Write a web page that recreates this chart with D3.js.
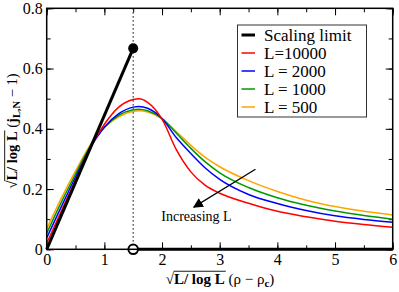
<!DOCTYPE html>
<html>
<head>
<meta charset="UTF-8">
<script src="https://d3js.org/d3.v7.min.js"></script>
<style>
  body { margin: 0; background: #fff; }
  svg text { fill: #000; font-family: "Liberation Serif", "Times New Roman", serif; }
</style>
</head>
<body>
<svg id="chart" width="399" height="292"></svg>
<script>
// data
const xs = [0, 0.25, 0.5, 0.75, 1, 1.25, 1.5, 1.6, 1.75, 2, 2.25, 2.5, 2.75, 3, 3.5, 4, 4.5, 5, 5.5, 6];
const L10000 = [0.02, 0.125, 0.23, 0.335, 0.415, 0.472, 0.497, 0.5, 0.488, 0.432, 0.33, 0.257, 0.212, 0.186, 0.153, 0.126, 0.108, 0.093, 0.082, 0.073];
const L2000 = [0.038, 0.14, 0.24, 0.335, 0.405, 0.45, 0.472, 0.474, 0.468, 0.434, 0.37, 0.318, 0.27, 0.232, 0.182, 0.152, 0.129, 0.111, 0.099, 0.09];
const L1000 = [0.053, 0.155, 0.25, 0.34, 0.405, 0.445, 0.463, 0.465, 0.46, 0.434, 0.385, 0.335, 0.29, 0.254, 0.205, 0.171, 0.146, 0.127, 0.112, 0.1];
const L500 = [0.068, 0.168, 0.26, 0.345, 0.405, 0.44, 0.458, 0.46, 0.456, 0.434, 0.39, 0.345, 0.305, 0.274, 0.228, 0.192, 0.163, 0.142, 0.126, 0.114];
const limitX = [0, 1.5], limitY = [0, 0.667];
const zeroX = [1.5, 6], zeroY = [0, 0];
const xcrit = 1.5;
const legendLabels = ["Scaling limit", "L=10000", "L = 2000", "L = 1000", "L = 500"];
const legendColors = ["#000", "#ff0000", "#0000ff", "#009900", "#ffa500"];
const xTicks = [0, 1, 2, 3, 4, 5, 6];
const yTicks = [0, 0.2, 0.4, 0.6, 0.8];

const FONT = "Liberation Serif";
const svg = d3.select("#chart");

const x = d3.scaleLinear().domain([0, 6]).range([46.7, 392.7]);
const y = d3.scaleLinear().domain([0, 0.8]).range([249.3, 8.3]);
const minorX = d3.range(0, 6.01, 0.5);
const minorY = d3.range(0, 0.801, 0.1);

// ticks, all pointing inward
function tickAxis(axis, tr, vals, size, fmt, pad) {
  const g = svg.append("g").attr("transform", tr)
    .call(axis.tickValues(vals).tickSize(-size).tickPadding(pad || 3).tickFormat(fmt || (() => "")));
  g.attr("font-family", FONT).attr("font-size", 16);
  g.select(".domain").remove();
  g.selectAll("line").attr("stroke", "#000").attr("stroke-width", 1);
  return g;
}
tickAxis(d3.axisBottom(x), `translate(0,${y(0)})`, minorX, 4);
tickAxis(d3.axisBottom(x), `translate(0,${y(0)})`, xTicks, 7, d => d, 4);
tickAxis(d3.axisTop(x), `translate(0,${y(0.8)})`, minorX, 4);
tickAxis(d3.axisTop(x), `translate(0,${y(0.8)})`, xTicks, 7);
tickAxis(d3.axisLeft(y), `translate(${x(0)},0)`, minorY, 4);
tickAxis(d3.axisLeft(y), `translate(${x(0)},0)`, yTicks, 7, d => d === 0 ? "0" : d.toFixed(1), 4);
tickAxis(d3.axisRight(y), `translate(${x(6)},0)`, minorY, 4);
tickAxis(d3.axisRight(y), `translate(${x(6)},0)`, yTicks, 7);

// dotted line at rho_c
svg.append("line")
  .attr("x1", x(xcrit)).attr("x2", x(xcrit)).attr("y1", y(0.8)).attr("y2", y(0))
  .attr("stroke", "#000").attr("stroke-width", 1.2).attr("stroke-dasharray", "1.2,2.8");

// finite-size curves
const line = d3.line().x(d => x(d[0])).y(d => y(d[1])).curve(d3.curveMonotoneX);
const series = [L500, L1000, L2000, L10000];
const seriesColors = ["#ffa500", "#009900", "#0000ff", "#ff0000"];
series.forEach((s, i) => {
  svg.append("path")
    .attr("d", line(xs.map((v, j) => [v, s[j]])))
    .attr("fill", "none").attr("stroke", seriesColors[i]).attr("stroke-width", 1.5);
});

// scaling limit
const straight = d3.line().x(d => x(d[0])).y(d => y(d[1]));
svg.append("path").attr("d", straight(limitX.map((v, i) => [v, limitY[i]])))
  .attr("stroke", "#000").attr("stroke-width", 3).attr("fill", "none");
svg.append("path").attr("d", straight(zeroX.map((v, i) => [v, zeroY[i]])))
  .attr("stroke", "#000").attr("stroke-width", 3).attr("fill", "none");
svg.append("circle").attr("cx", x(limitX[1])).attr("cy", y(limitY[1])).attr("r", 5).attr("fill", "#000");
svg.append("circle").attr("cx", x(zeroX[0])).attr("cy", y(0)).attr("r", 4.8)
  .attr("fill", "#fff").attr("stroke", "#000").attr("stroke-width", 2);

// frame
svg.append("rect").attr("x", x(0)).attr("y", y(0.8))
  .attr("width", x(6) - x(0)).attr("height", y(0) - y(0.8))
  .attr("fill", "none").attr("stroke", "#000").attr("stroke-width", 1.5);

// arrow "Increasing L"
const defs = svg.append("defs");
defs.append("marker").attr("id", "head").attr("viewBox", "0 0 10 10")
  .attr("refX", 9).attr("refY", 5).attr("markerWidth", 10).attr("markerHeight", 10)
  .attr("markerUnits", "userSpaceOnUse").attr("orient", "auto")
  .append("path").attr("d", "M0,0L10,5L0,10Z").attr("fill", "#000");
svg.append("line").attr("x1", x(3.62)).attr("y1", y(0.266)).attr("x2", x(2.55)).attr("y2", y(0.14))
  .attr("stroke", "#000").attr("stroke-width", 1.2).attr("marker-end", "url(#head)");
svg.append("text").attr("x", 196.5).attr("y", 221).attr("text-anchor", "middle")
  .attr("font-size", 14).text("Increasing L");

// legend
const lg = svg.append("g");
lg.append("rect").attr("x", 237.5).attr("y", 25).attr("width", 129).attr("height", 92)
  .attr("fill", "#fff").attr("stroke", "#333").attr("stroke-width", 1);
legendLabels.forEach((lab, i) => {
  const cy = 35 + i * 18;
  lg.append("line").attr("x1", 241.5).attr("x2", 255).attr("y1", cy).attr("y2", cy)
    .attr("stroke", legendColors[i]).attr("stroke-width", i === 0 ? 3 : 1.5);
  lg.append("text").attr("x", 264).attr("y", cy + 6).attr("font-size", 17).text(lab);
});

// axis titles with a radical sign
function radicalTitle(g, pieces, size) {
  let cx = 0;
  pieces.forEach(p => {
    const fs = p.sub ? size * 0.72 : size;
    const t = g.append("text").attr("x", cx).attr("y", p.sub ? 3 : 0)
      .attr("font-size", fs).attr("font-weight", p.bold ? "bold" : "normal").text(p.t);
    const w = t.node().getComputedTextLength();
    if (p.over) {
      g.append("line").attr("x1", cx - 0.5).attr("x2", cx + w + 1)
        .attr("y1", -size * 0.85).attr("y2", -size * 0.85).attr("stroke", "#000").attr("stroke-width", 0.9);
    }
    cx += w;
  });
  return cx;
}
const sp = "\u00a0";
const xt = svg.append("g");
const xw = radicalTitle(xt, [
  { t: "√" }, { t: "L/" + sp + "log" + sp + "L", bold: true, over: true }, { t: sp + "(ρ − ρ" }, { t: "c", sub: true, bold: true }, { t: ")" }
], 15);
xt.attr("transform", `translate(${220 - xw / 2},284)`);

const yt = svg.append("g");
const yw = radicalTitle(yt, [
  { t: "√" }, { t: "L/" + sp + "log" + sp + "L", bold: true, over: true }, { t: sp + "(" }, { t: "j", bold: true }, { t: "L,N", sub: true, bold: true }, { t: sp + "− 1)" }
], 14.5);
yt.attr("transform", `translate(17,${131 + yw / 2}) rotate(-90)`);
</script>
</body>
</html>
